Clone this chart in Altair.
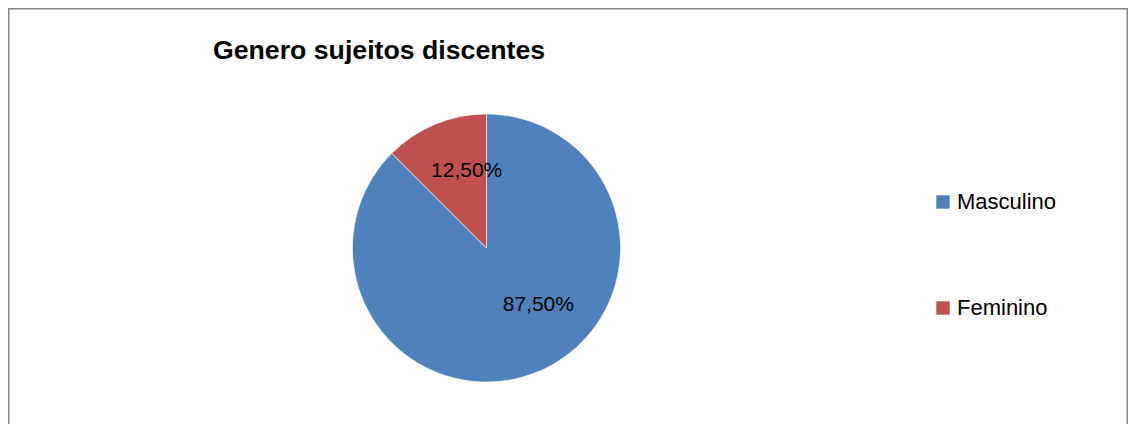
import math
import altair as alt
import pandas as pd

# ---- data ----
categories = ["Masculino", "Feminino"]
values = [87.5, 12.5]
labels = ["87,50%", "12,50%"]
order = [0, 1]
colors = ["#4F81BD", "#C0504D"]
title_text = ["Genero sujeitos discentes"]

df = pd.DataFrame({"genero": categories, "valor": values, "rotulo": labels, "ordem": order})
title_df = pd.DataFrame({"t": title_text})

W, H = 1120, 416
CX, CY, R = 478.5, 240, 134
FONT = "Liberation Sans"

pie = alt.Chart(df).mark_arc(
    radius=R, x=CX, y=CY, stroke="white", strokeWidth=0.6
).encode(
    theta=alt.Theta("valor:Q", stack=True),
    order=alt.Order("ordem:Q"),
    color=alt.Color(
        "genero:N",
        scale=alt.Scale(domain=categories, range=colors),
        legend=alt.Legend(
            title=None, orient="none", legendX=924, legendY=183,
            symbolType="square", symbolSize=180, symbolStrokeWidth=0,
            labelFontSize=22, labelFont=FONT, labelColor="black",
            rowPadding=84, labelOffset=3, padding=0,
        ),
    ),
)


def label_layer(cat, dx, dy):
    return alt.Chart(df).transform_window(
        cum="sum(valor)", sort=[alt.SortField("ordem")], frame=[None, 0]
    ).transform_calculate(
        mid="datum.cum - datum.valor / 2"
    ).transform_filter(
        alt.datum.genero == cat
    ).mark_text(
        x=CX, y=CY, radius=78, fontSize=21, font=FONT, color="black",
        dx=dx, dy=dy, align="center", baseline="middle",
    ).encode(
        theta=alt.Theta("mid:Q", stack=None,
                        scale=alt.Scale(domain=[0, 100], range=[0, 2 * math.pi])),
        text="rotulo:N",
    )


lab_m = label_layer("Masculino", 22, -15)
lab_f = label_layer("Feminino", 10, -5)

title = alt.Chart(title_df).mark_text(
    fontSize=26.7, fontWeight="bold", font=FONT, color="black",
    align="center", baseline="alphabetic",
).encode(x=alt.value(371), y=alt.value(51), text="t:N")

border_color = "#888888"
left = alt.Chart(title_df).mark_rule(color=border_color, strokeWidth=1.5).encode(
    x=alt.value(0.75), y=alt.value(0), y2=alt.value(H))
top = alt.Chart(title_df).mark_rule(color=border_color, strokeWidth=1.5).encode(
    x=alt.value(0), x2=alt.value(W), y=alt.value(0.75))
right = alt.Chart(title_df).mark_rule(color=border_color, strokeWidth=1.5).encode(
    x=alt.value(W - 0.75), y=alt.value(0), y2=alt.value(H))

chart = alt.layer(pie, lab_m, lab_f, title, left, top, right).properties(
    width=W, height=H, padding=0,
    autosize=alt.AutoSizeParams(type="none"),
).configure_view(stroke=None).resolve_scale(theta="independent")

chart.save("out.html", embed_options={"renderer": "svg", "actions": False})
